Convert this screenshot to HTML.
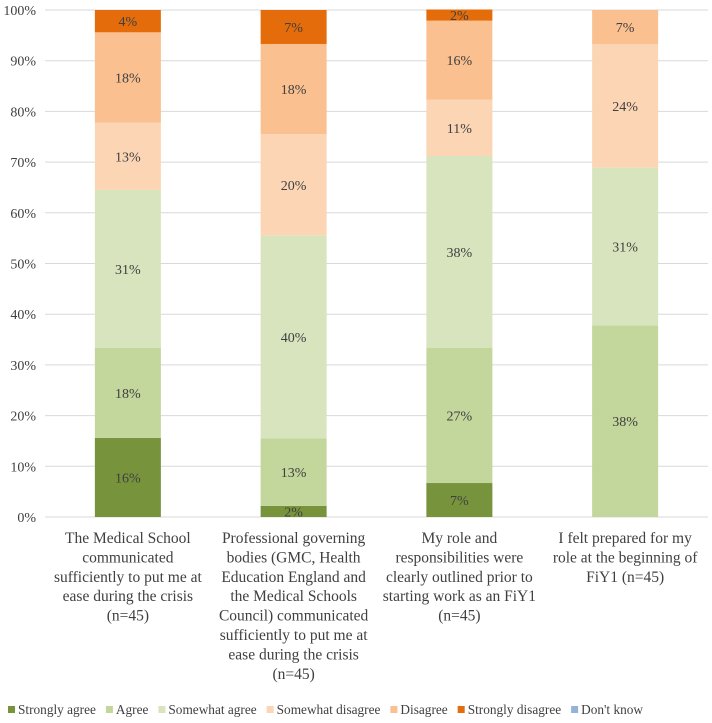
<!DOCTYPE html>
<html><head><meta charset="utf-8"><style>
body{margin:0;background:#fff;}
svg text{font-family:"Liberation Serif","DejaVu Serif",serif !important;fill:#404040;}
</style></head><body>
<svg id="c" width="712" height="718" font-family="Liberation Serif, DejaVu Serif, serif"></svg>
<script>
const categories=[["The Medical School","communicated","sufficiently to put me at","ease during the crisis","(n=45)"],
["Professional governing","bodies (GMC, Health","Education England and","the Medical Schools","Council) communicated","sufficiently to put me at","ease during the crisis","(n=45)"],
["My role and","responsibilities were","clearly outlined prior to","starting work as an FiY1","(n=45)"],
["I felt prepared for my","role at the beginning of","FiY1 (n=45)"]];
const seriesNames=["Strongly agree","Agree","Somewhat agree","Somewhat disagree","Disagree","Strongly disagree","Don't know"];
const stronglyAgree=[15.6,2.2,6.7,0];
const agree=[17.8,13.3,26.7,37.8];
const somewhatAgree=[31.1,40,37.8,31.1];
const somewhatDisagree=[13.3,20,11.1,24.4];
const disagree=[17.8,17.8,15.6,6.7];
const stronglyDisagree=[4.4,6.7,2.2,0];
const dontKnow=[0,0,0,0];
const yTicks=[0,10,20,30,40,50,60,70,80,90,100];
const colors=["#77933c","#c3d69b","#d7e4bd","#fcd5b5","#fac090","#e46c0a","#95b3d7"];
const series=[stronglyAgree,agree,somewhatAgree,somewhatDisagree,disagree,stronglyDisagree,dontKnow];
const svg=document.getElementById('c');const NS="http://www.w3.org/2000/svg";
const L=45,R=708,T=10,B=517;
const y=v=>B-(B-T)*v/100;const bw=(R-L)/4;const x=i=>L+bw*(i+0.5);
function mk(t,a){const e=document.createElementNS(NS,t);for(const k in a)e.setAttribute(k,a[k]);if(t==='text')e.setAttribute('font-family','Liberation Serif, DejaVu Serif, serif');svg.appendChild(e);return e;}
yTicks.forEach(t=>{const g=mk('line',{x1:L,x2:R,y1:y(t),y2:y(t),stroke:'#d9d9d9','stroke-width':1});

const tx=mk('text',{x:L-9,y:y(t)+5,'text-anchor':'end','font-size':14});tx.textContent=t+'%';
});
categories.forEach((c,i)=>{let acc=0;
series.forEach((s,k)=>{const v=s[i];if(v<=0)return;
const r=mk('rect',{x:x(i)-33,y:y(acc+v),width:66,height:y(acc)-y(acc+v),fill:colors[k]});

const tx=mk('text',{x:x(i),y:(y(acc)+y(acc+v))/2+5,'text-anchor':'middle','font-size':14});tx.textContent=Math.round(v)+'%';

acc+=v;});
c.forEach((ln,j)=>{const tx=mk('text',{x:x(i),y:B+26+j*19.4,'text-anchor':'middle','font-size':15.5});tx.textContent=ln;
});
});
let px=8;
seriesNames.forEach((n,k)=>{const r=mk('rect',{x:px,y:706,width:7,height:7,fill:colors[k]});

const tx=mk('text',{x:px+10,y:714,'font-size':13.3});tx.textContent=n;

px+=10+tx.getComputedTextLength()+10;});
</script>
</body></html>
